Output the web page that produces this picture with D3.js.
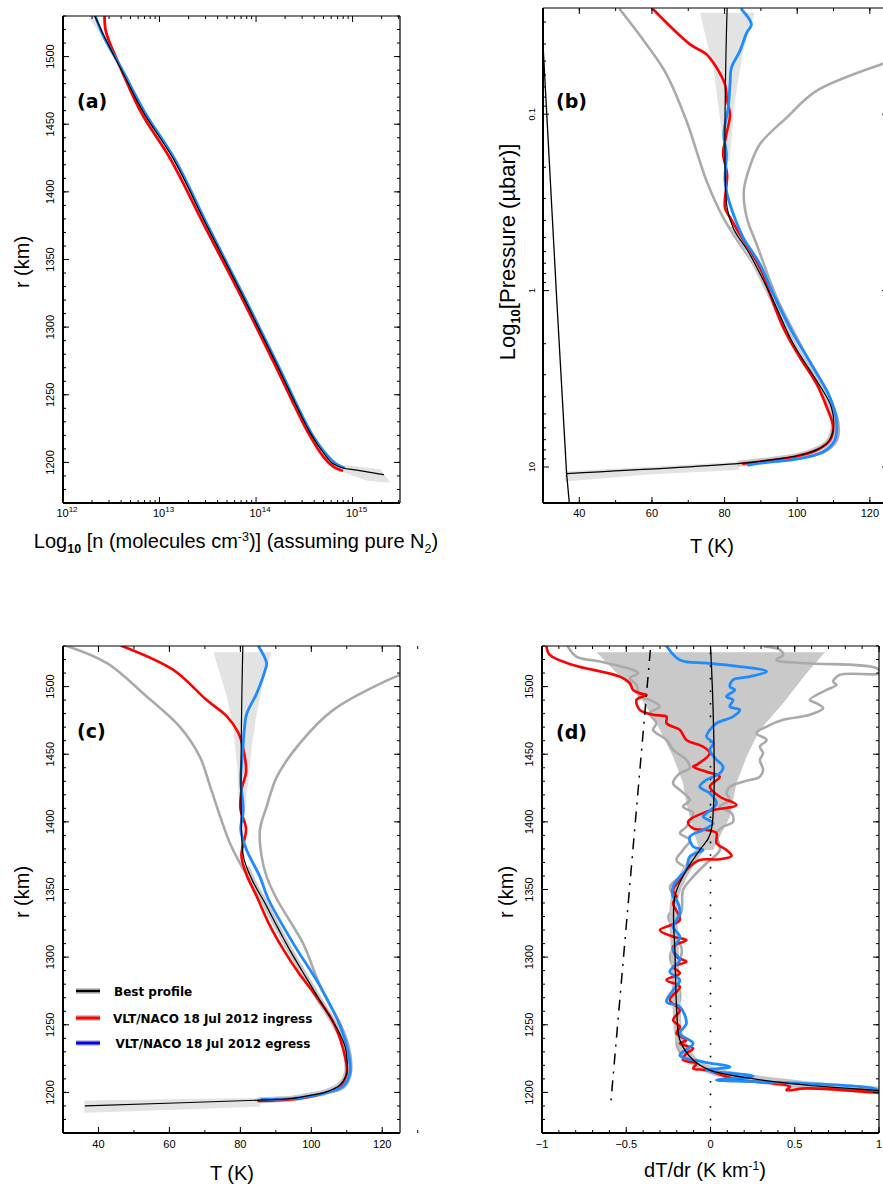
<!DOCTYPE html>
<html><head><meta charset="utf-8">
<script src="https://cdn.jsdelivr.net/npm/d3@7"></script>
<style>
body{margin:0;background:#fff}
svg{display:block}
text{font-family:"Liberation Sans",Arial,sans-serif;fill:#000}
.bold{font-family:"DejaVu Sans",sans-serif;font-weight:bold}
</style>
</head><body><script>
// ---------------- DATA ----------------
// Panel (a): [log10 n (cm^-3), r (km)]
const aBest  = [[12.33,1530],[12.42,1516],[12.61,1489.4],[12.835,1458.6],[13.146,1424],[13.49,1375],[13.87,1322],[14.22,1271.5],[14.56,1222],[14.72,1205],[14.80,1199],[14.91,1195.7],[15.01,1194.7],[15.32,1191]];
const aIngress = [[12.43,1530],[12.44,1520],[12.47,1512.8],[12.61,1489.4],[12.815,1458],[13.115,1424],[13.465,1375],[13.85,1322],[14.20,1271.5],[14.54,1222],[14.70,1204],[14.80,1197],[14.89,1194]];
const aEgress  = [[12.335,1530],[12.42,1515],[12.62,1489.4],[12.85,1458.6],[13.16,1424],[13.50,1375],[13.88,1322],[14.23,1271.5],[14.57,1222],[14.74,1205],[14.83,1199],[14.91,1196]];
const aBandTop = [[12.27,1528],[12.46,1510],[12.61,1489.5],[12.42,1516],[12.33,1530]];
const aBandBot = [[14.91,1198],[15.29,1195],[15.39,1185],[15.15,1186.5],[14.91,1192.6]];
const aXTicks = [12,13,14,15];

// Panel (b): [T (K), p (microbar)]
const bBest    = [[80.7,0.025],[80.7,0.34],[82.5,0.447],[86.9,0.619],[93.4,1.14],[98.9,2.0],[105.3,3.23],[109.4,4.57],[109.9,6.19],[108.1,7.38],[102.6,8.39],[93.4,9.08],[84.2,9.55],[36.5,10.9]];
const bIngress = [[60.4,0.0255],[70.5,0.0402],[75.0,0.0457],[77.8,0.0545],[80.1,0.0676],[80.7,0.0841],[81.5,0.1],[80.5,0.130],[79.6,0.168],[80.7,0.219],[80.1,0.339],[81.5,0.385],[84.2,0.479],[89.7,0.738],[92.5,1.045],[96.1,1.61],[100.7,2.38],[105.3,3.37],[108.1,4.57],[109.9,5.94],[109.0,7.06],[105.3,8.04],[98.9,8.77],[92.5,9.16],[85.1,9.57]];
const bEgress  = [[84.7,0.0255],[87.4,0.031],[86.1,0.0345],[84.2,0.0439],[81.9,0.0545],[81.5,0.0676],[81.0,0.0918],[79.8,0.130],[80.5,0.168],[80.1,0.238],[80.7,0.284],[82.4,0.368],[85.1,0.499],[89.7,0.706],[93.4,1.045],[98.9,1.76],[104.4,2.72],[109.0,4.02],[110.8,5.45],[110.3,7.06],[107.1,8.22],[98.9,9.08],[92.5,9.35],[86.6,9.77]];
const bGrayLeft  = [[51.2,0.0255],[58.5,0.0402],[64.0,0.0594],[69.5,0.109],[75.0,0.238],[79.6,0.385],[83,0.5],[88,0.71],[92,1.0],[97,1.7],[103,2.8],[108,4.2],[110,5.5],[110.5,7],[107,8.2],[99,9.0],[90,9.4]];
const bGrayRight = [[127,0.049],[123.2,0.0521],[105.3,0.0738],[97.1,0.1045],[89.7,0.148],[86.9,0.2],[85.3,0.272],[86.1,0.385],[88.8,0.544],[94.3,1.09],[99.5,1.78],[105,2.9],[109.5,4.3],[111.3,5.6],[111,7.0],[107.5,8.2],[99,9.0],[90,9.5]];
const bSatLine = [[30,0.0402],[33.8,1.14],[36.5,10.9],[37.25,16]];
const bBandTop = [[73.2,0.0266],[76.9,0.0545],[78.7,0.1045],[80.1,0.184],[81.4,0.184],[82.8,0.0841],[85.1,0.0439],[88.3,0.0266]];
const bBandBot = [[36,10.6],[84,9.35],[84,10.4],[60,11.0],[36,12.1]];
const bXTicks = [40,60,80,100,120];
const bYTicks = [0.1,1,10];

// Panel (c): [T (K), r (km)]
const cBest    = [[80.7,1530],[80.7,1377],[82,1365],[84.3,1352],[86.5,1342],[90.5,1322],[94,1305],[98.5,1285],[102.4,1268],[105.5,1255],[108,1243.6],[109.5,1234],[110,1226],[110,1214],[108,1205.4],[104.3,1200.4],[99,1197.5],[94.9,1195.6],[90,1194.8],[85.5,1194.3],[36.3,1190]];
const cIngress = [[46.6,1530],[61.1,1512.3],[70.5,1490],[76.2,1478],[79.4,1466],[80.6,1456.6],[81.6,1437],[80.4,1424.6],[80.0,1409.8],[81.6,1394.8],[80.3,1375],[81.8,1360.5],[84.6,1345],[88,1325],[92.1,1305.7],[96.5,1288],[100.6,1273.8],[106.2,1251.8],[109,1231.7],[110,1214.6],[108.1,1204.8],[102.5,1198.6],[94.9,1194.9],[85.1,1193.7]];
const cEgress  = [[85.1,1530],[87.4,1517.3],[87.0,1512.3],[84.6,1495],[81.8,1480],[81.1,1468],[80.7,1453],[80.1,1431],[80.8,1408.8],[80.1,1394],[81.8,1379],[85.5,1359.5],[87.9,1342.8],[94.9,1310.2],[102.4,1278.8],[108.1,1249.3],[110.4,1229.6],[110.9,1214.6],[109,1204.8],[104.3,1199.9],[94.9,1195.6],[86,1194.8]];
const cGrayLeft  = [[31.1,1530],[42.4,1517.3],[53.6,1492.6],[63,1470],[68.6,1448],[71.5,1426],[74.3,1404],[77.1,1384],[79.9,1369.4],[82.5,1358],[86,1342],[89.5,1325],[93.8,1305],[98.5,1285],[102.6,1268],[106.3,1252],[109,1240],[110.6,1226],[110.8,1214],[109,1204],[104,1199.5],[95,1195.8],[86,1195]];
const cGrayRight = [[127,1510],[125,1508.6],[106.2,1482.8],[96.8,1458.2],[90.3,1433.4],[87.4,1411.2],[85.5,1394],[86,1374.3],[87.4,1359.5],[90.3,1342.8],[97.7,1310],[101.5,1285],[104.5,1268],[108.3,1250],[110.7,1232],[111.1,1214],[109.3,1204],[104.5,1199.5],[95,1196],[86,1195.2]];
const cBandTop = [[72.4,1525.4],[76.2,1492.6],[78.0,1468],[79.2,1438.4],[79.4,1421.2],[80.4,1403.8],[80.7,1369.4],[81.4,1411.2],[81.8,1421.2],[82.3,1431],[83.2,1455.6],[84.6,1480.3],[86.5,1504.9],[88.8,1525.4]];
const cBandBot = [[36,1194],[85.5,1196],[85.5,1189.5],[60,1187],[36,1185]];
const cXTicks = [40,60,80,100,120];
const rTicks = [1200,1250,1300,1350,1400,1450,1500];

// Panel (d): [dT/dr (K/km), r (km)]
const dBest = [[0,1530],[0,1391.6],[-0.064,1379.2],[-0.143,1364.4],[-0.212,1344.7],[-0.21,1300],[-0.2,1260],[-0.182,1238.7],[-0.103,1223.9],[-0.004,1216.5],[0.174,1211.6],[0.57,1205.4],[0.966,1201.7],[1.1,1200.5]];
const dIngress = [[-0.974,1530],[-0.954,1523.4],[-0.816,1516],[-0.539,1507.4],[-0.479,1502.5],[-0.46,1497.6],[-0.42,1495.1],[-0.38,1493.9],[-0.439,1490.2],[-0.42,1482.8],[-0.341,1479.1],[-0.261,1477.8],[-0.261,1472.9],[-0.182,1468],[-0.143,1460.6],[-0.044,1455.6],[-0.004,1450.7],[-0.083,1442.1],[-0.103,1440.8],[-0.024,1437.1],[0.055,1433.4],[-0.004,1426],[0.055,1418.6],[0.154,1412.5],[-0.024,1407.5],[-0.133,1400.1],[-0.103,1395.2],[-0.024,1394],[0.036,1391.6],[0.036,1384.2],[0.095,1379.2],[0.125,1374.8],[0.055,1372.3],[-0.064,1371.8],[-0.143,1364.4],[-0.182,1357],[-0.222,1349.6],[-0.202,1344.7],[-0.222,1339.8],[-0.182,1327.4],[-0.301,1320],[-0.222,1315.1],[-0.143,1312.7],[-0.222,1307.7],[-0.202,1300.3],[-0.143,1296.6],[-0.222,1292.9],[-0.182,1288],[-0.261,1283.1],[-0.182,1278.1],[-0.242,1268.3],[-0.182,1260.9],[-0.222,1253.5],[-0.182,1248.5],[-0.202,1243.6],[-0.143,1238.7],[-0.182,1236.2],[-0.103,1232.5],[-0.143,1228.8],[-0.163,1223.9],[-0.083,1221.4],[-0.103,1217.7],[-0.024,1216.5],[0.095,1211.6],[0.174,1209.1],[0.372,1206.7],[0.471,1204.2],[0.451,1201.7],[0.57,1203],[1.005,1199.7]];
const dEgress = [[-0.261,1530],[-0.182,1519.7],[-0.024,1517.3],[0.174,1514.8],[0.333,1511.1],[0.233,1507.4],[0.134,1505],[0.115,1500],[0.144,1497.5],[0.095,1492.6],[0.134,1490.2],[0.115,1485.2],[0.174,1482.8],[0.134,1477.8],[0.036,1472.9],[-0.004,1468],[-0.024,1463],[0.016,1458.1],[-0.004,1453.2],[0.036,1445.8],[0.075,1440.8],[0.055,1435.9],[-0.024,1431],[-0.064,1426],[-0.004,1421.1],[0.036,1413.7],[-0.024,1406.3],[-0.044,1403.8],[0.016,1398.9],[-0.044,1394],[-0.123,1389],[-0.103,1381.7],[-0.044,1379.2],[-0.123,1374.3],[-0.143,1364.4],[-0.182,1359.5],[-0.222,1352.1],[-0.222,1344.7],[-0.202,1342.3],[-0.182,1332.4],[-0.222,1322.5],[-0.182,1315.1],[-0.222,1305.3],[-0.182,1297.9],[-0.242,1289.2],[-0.182,1283.1],[-0.222,1275.7],[-0.261,1267],[-0.182,1263.3],[-0.143,1251],[-0.182,1243.6],[-0.103,1236.2],[-0.182,1227.5],[-0.044,1222.6],[0.115,1218.9],[-0.024,1216.5],[0.253,1212],[0.036,1209.1],[0.293,1207.9],[0.966,1203],[1.005,1200.5]];
const dGrayLeft = [[-0.846,1529.6],[-0.796,1522.2],[-0.657,1518.5],[-0.46,1512.4],[-0.43,1509.9],[-0.479,1506.2],[-0.439,1501.3],[-0.42,1492.6],[-0.36,1490.2],[-0.301,1485.2],[-0.36,1480.3],[-0.321,1472.9],[-0.341,1468],[-0.261,1460.6],[-0.222,1453.2],[-0.143,1445.8],[-0.123,1439.6],[-0.182,1435.9],[-0.222,1428.5],[-0.182,1423.6],[-0.123,1416.2],[-0.163,1411.2],[-0.103,1406.4],[-0.143,1396.4],[-0.182,1391.6],[-0.123,1386.6],[-0.163,1379.2],[-0.202,1371.8],[-0.143,1364.4],[-0.24,1352],[-0.2,1340],[-0.25,1330],[-0.2,1315],[-0.24,1300],[-0.2,1285],[-0.22,1270],[-0.19,1250],[-0.2,1235],[-0.15,1225],[-0.05,1218],[0.2,1212],[0.6,1205],[1.05,1201]];
const dGrayRight = [[0.322,1529.6],[0.412,1527.1],[0.431,1523.4],[0.392,1519.7],[0.57,1517.3],[0.986,1513.6],[1.005,1509.9],[0.768,1508.7],[0.728,1503.7],[0.748,1501.3],[0.689,1497.6],[0.59,1490.2],[0.629,1487.7],[0.669,1484],[0.59,1479.1],[0.431,1475.4],[0.333,1470.4],[0.273,1465.5],[0.333,1460.6],[0.293,1455.6],[0.312,1450.7],[0.293,1445.8],[0.312,1438.4],[0.293,1433.4],[0.194,1429.7],[0.115,1426],[0.095,1421.2],[0.115,1416.2],[0.055,1411.2],[0.125,1406.4],[0.134,1400.1],[0.075,1396.4],[0.036,1391.6],[0.055,1379.2],[-0.024,1369.4],[-0.103,1359.5],[-0.163,1349.6],[-0.17,1335],[-0.21,1320],[-0.17,1305],[-0.2,1290],[-0.18,1270],[-0.21,1255],[-0.16,1240],[-0.12,1228],[-0.03,1219],[0.25,1211],[0.7,1204.5],[1.05,1201.5]];
const dBand = [[-0.677,1525.4],[-0.42,1492.6],[-0.32,1472.9],[-0.222,1448.2],[-0.163,1428.5],[-0.143,1413.7],[-0.103,1394],[-0.064,1379],[0.016,1379.2],[0.075,1394],[0.115,1403.8],[0.154,1428.5],[0.214,1448.2],[0.293,1468],[0.431,1487.7],[0.57,1509.9],[0.679,1525.4]];
const dAdiabat = [[-0.357,1527],[-0.594,1189]];
const dXTicks = [-1,-0.5,0,0.5,1];

const legendLabels = ["Best profile","VLT/NACO 18 Jul 2012 ingress","VLT/NACO 18 Jul 2012 egress"];
const panelLabels = ["(a)","(b)","(c)","(d)"];

// ---------------- DRAWING ----------------
const RED="#ff0000", BLUE="#1e8cff", GRAY="#aaaaaa", BAND="#e3e3e3", BANDD="#c9c9c9";
const svg=d3.select("body").append("svg").attr("width",883).attr("height",1184);

const curve=d3.curveCatmullRom.alpha(0.5);

function panel(id,x0,x1,y0,y1){
  const g=svg.append("g");
  svg.append("clipPath").attr("id",id).append("rect").attr("x",x0).attr("y",y0).attr("width",x1-x0).attr("height",y1-y0);
  const plot=g.append("g").attr("clip-path",`url(#${id})`);
  return {g,plot,x0,x1,y0,y1};
}
function line(P,data,xs,ys,opt){
  const l=d3.line().x(d=>xs(d[0])).y(d=>ys(d[1])).curve(opt.curve||curve);
  P.plot.append("path").attr("d",l(data)).attr("fill",opt.fill||"none")
    .attr("stroke",opt.stroke||"none").attr("stroke-width",opt.w||1)
    .attr("stroke-dasharray",opt.dash||null).attr("stroke-linejoin","round").attr("stroke-linecap",opt.cap||"round");
}
function poly(P,data,xs,ys,fill){
  const l=d3.line().x(d=>xs(d[0])).y(d=>ys(d[1])).curve(d3.curveLinearClosed);
  P.plot.append("path").attr("d",l(data)).attr("fill",fill).attr("stroke","none");
}
function frame(P,xs,ys,xMaj,xMin,yMaj,yMin){
  const g=P.g;
  const seg=(a,b,c,d,w)=>g.append("line").attr("x1",a).attr("y1",b).attr("x2",c).attr("y2",d).attr("stroke","#000").attr("stroke-width",w||1);
  xMin.forEach(v=>{const X=xs(v);seg(X,P.y1,X,P.y1-3);seg(X,P.y0,X,P.y0+3);});
  xMaj.forEach(v=>{const X=xs(v);seg(X,P.y1,X,P.y1-6);seg(X,P.y0,X,P.y0+6);});
  yMin.forEach(v=>{const Y=ys(v);seg(P.x0,Y,P.x0+3,Y);seg(P.x1,Y,P.x1-3,Y);});
  yMaj.forEach(v=>{const Y=ys(v);seg(P.x0,Y,P.x0+6,Y);seg(P.x1,Y,P.x1-6,Y);});
  seg(P.x0,P.y0,P.x1,P.y0,1.2);
  seg(P.x1,P.y0,P.x1,P.y1,1.2);
  seg(P.x0,P.y1,P.x1,P.y1,2);
  seg(P.x0,P.y0,P.x0,P.y1,2);
}
function yTickLabels(P,ys,vals,fmt,xb,fs){
  vals.forEach(v=>{P.g.append("text").attr("transform",`translate(${xb},${ys(v)}) rotate(-90)`)
    .attr("text-anchor","middle").attr("font-size",fs).text(fmt(v));});
}
function xTickLabels(P,xs,vals,fmt,yb,fs){
  vals.forEach(v=>{P.g.append("text").attr("x",xs(v)).attr("y",yb).attr("text-anchor","middle").attr("font-size",fs).text(fmt(v));});
}
const rng=(a,b,s)=>d3.range(Math.round(a/s),Math.round(b/s)+1).map(k=>+(k*s).toFixed(6));

// ---- Panel (a)
{
  const P=panel("ca",63,400,16,503);
  const xs=d3.scaleLog().domain([1e12,3.1e15]).range([P.x0,P.x1]);
  const ys=d3.scaleLinear().domain([1170,1530]).range([P.y1,P.y0]);
  const X=d=>xs(Math.pow(10,d));
  poly(P,aBandTop,X,ys,BAND);
  poly(P,aBandBot,X,ys,BAND);
  line(P,aIngress,X,ys,{stroke:RED,w:2.8});
  line(P,aEgress,X,ys,{stroke:BLUE,w:2.8});
  line(P,aBest,X,ys,{stroke:"#000",w:1.2});
  const minor=[];
  for(let e=12;e<=15;e++) for(let k=2;k<=9;k++){const v=k*Math.pow(10,e); if(v<=3.1e15) minor.push(v);}
  frame(P,xs,ys,aXTicks.map(e=>Math.pow(10,e)),minor,rTicks,rng(1170,1530,10));
  yTickLabels(P,ys,rTicks,d=>d,54,11);
  aXTicks.forEach(e=>{
    const t=P.g.append("text").attr("x",xs(Math.pow(10,e))+4).attr("y",517).attr("text-anchor","middle").attr("font-size",11);
    t.append("tspan").text("10");
    t.append("tspan").attr("dy",-5).attr("font-size",8).text(e);
  });
  const t=P.g.append("text").attr("x",236).attr("y",548).attr("text-anchor","middle").attr("font-size",20);
  t.append("tspan").text("Log");
  t.append("tspan").attr("dy",5).attr("font-size",12.5).attr("font-weight","bold").text("10");
  t.append("tspan").attr("dy",-5).text(" [n (molecules cm");
  t.append("tspan").attr("dy",-7).attr("font-size",12.5).text("-3");
  t.append("tspan").attr("dy",7).text(")] (assuming pure N");
  t.append("tspan").attr("dy",5).attr("font-size",12.5).text("2");
  t.append("tspan").attr("dy",-5).text(")");
  P.g.append("text").attr("transform","translate(29,262) rotate(-90)").attr("text-anchor","middle").attr("font-size",20).text("r (km)");
  P.g.append("text").attr("class","bold").attr("x",77).attr("y",108).attr("font-size",19).text(panelLabels[0]);
}

// ---- Panel (b)
{
  const P=panel("cb",543,888,8,503);
  const xs=d3.scaleLinear().domain([30,125]).range([P.x0,P.x1]);
  const ys=d3.scaleLog().domain([0.025,16]).range([P.y0,P.y1]);
  poly(P,bBandTop,xs,ys,BAND);
  poly(P,bBandBot,xs,ys,BAND);
  line(P,bGrayLeft,xs,ys,{stroke:GRAY,w:2.6});
  line(P,bGrayRight,xs,ys,{stroke:GRAY,w:2.6});
  line(P,bBest.slice(2,-1),xs,ys,{stroke:"#c8c8c8",w:6});
  line(P,bIngress,xs,ys,{stroke:RED,w:2.6});
  line(P,bEgress,xs,ys,{stroke:BLUE,w:2.8});
  line(P,bBest,xs,ys,{stroke:"#000",w:1.2});
  line(P,bSatLine,xs,ys,{stroke:"#000",w:1.3,curve:d3.curveLinear});
  const minor=[];
  for(let e=-2;e<=1;e++) for(let k=2;k<=9;k++){const v=k*Math.pow(10,e); if(v>=0.025&&v<=16) minor.push(v);}
  frame(P,xs,ys,bXTicks,rng(30,125,10),bYTicks,minor);
  yTickLabels(P,ys,bYTicks,d=>d,535,9);
  xTickLabels(P,xs,bXTicks,d=>d,517,11);
  P.g.append("text").attr("x",712).attr("y",553).attr("text-anchor","middle").attr("font-size",20).text("T (K)");
  const t=P.g.append("text").attr("transform","translate(515,252) rotate(-90)").attr("text-anchor","middle").attr("font-size",22);
  t.append("tspan").text("Log");
  t.append("tspan").attr("dy",5).attr("font-size",13).attr("font-weight","bold").text("10");
  t.append("tspan").attr("dy",-5).text("[Pressure (\u00b5bar)]");
  P.g.append("text").attr("class","bold").attr("x",556).attr("y",108).attr("font-size",19).text(panelLabels[1]);
}

// ---- Panel (c)
{
  const P=panel("cc",63,400,646,1133);
  const xs=d3.scaleLinear().domain([30,125]).range([P.x0,P.x1]);
  const ys=d3.scaleLinear().domain([1170,1530]).range([P.y1,P.y0]);
  poly(P,cBandTop,xs,ys,BAND);
  poly(P,cBandBot,xs,ys,BAND);
  line(P,cGrayLeft,xs,ys,{stroke:GRAY,w:2.6});
  line(P,cGrayRight,xs,ys,{stroke:GRAY,w:2.6});
  line(P,cBest.slice(2,20),xs,ys,{stroke:"#c8c8c8",w:6});
  line(P,cIngress,xs,ys,{stroke:RED,w:2.6});
  line(P,cEgress,xs,ys,{stroke:BLUE,w:2.8});
  line(P,cBest,xs,ys,{stroke:"#000",w:1.2});
  frame(P,xs,ys,cXTicks,rng(30,125,10),rTicks,rng(1170,1530,10));
  yTickLabels(P,ys,rTicks,d=>d,54,11);
  xTickLabels(P,xs,cXTicks,d=>d,1148,11);
  P.g.append("text").attr("x",232).attr("y",1180).attr("text-anchor","middle").attr("font-size",20).text("T (K)");
  P.g.append("text").attr("transform","translate(29,892) rotate(-90)").attr("text-anchor","middle").attr("font-size",20).text("r (km)");
  P.g.append("text").attr("class","bold").attr("x",77).attr("y",738).attr("font-size",19).text(panelLabels[2]);
  // legend
  const lg=P.g.append("g");
  const cols=["#000",RED,"#0000ff"], ly=[991,1018,1043], lx=[114,113,115.5], tb=[995.5,1022.5,1047.5];
  legendLabels.forEach((s,i)=>{
    lg.append("line").attr("x1",76).attr("x2",100).attr("y1",ly[i]).attr("y2",ly[i]).attr("stroke","#c8c8c8").attr("stroke-width",6);
    lg.append("line").attr("x1",76).attr("x2",100).attr("y1",ly[i]).attr("y2",ly[i]).attr("stroke",cols[i]).attr("stroke-width",i?3:2.5);
    lg.append("text").attr("class","bold").attr("x",lx[i]).attr("y",tb[i]).attr("font-size",12).text(s);
  });
}

// ---- Panel (d)
{
  const P=panel("cd",542,879,646,1133);
  const xs=d3.scaleLinear().domain([-1,1]).range([P.x0,P.x1]);
  const ys=d3.scaleLinear().domain([1170,1530]).range([P.y1,P.y0]);
  poly(P,dBand,xs,ys,BANDD);
  line(P,dGrayLeft,xs,ys,{stroke:GRAY,w:2.6});
  line(P,dGrayRight,xs,ys,{stroke:GRAY,w:2.6});
  line(P,dBest.slice(2),xs,ys,{stroke:"#c4c4c4",w:8});
  line(P,[[0,1170],[0,1530]],xs,ys,{stroke:"#000",w:1.6,dash:"1.6,11",cap:"butt",curve:d3.curveLinear});
  line(P,dIngress,xs,ys,{stroke:RED,w:2.6});
  line(P,dEgress,xs,ys,{stroke:BLUE,w:2.8});
  line(P,dBest,xs,ys,{stroke:"#000",w:1.3});
  line(P,dAdiabat,xs,ys,{stroke:"#000",w:1.5,dash:"11,7,2,7",cap:"butt",curve:d3.curveLinear});
  frame(P,xs,ys,dXTicks,rng(-1,1,0.1),rTicks,rng(1170,1530,10));
  yTickLabels(P,ys,rTicks,d=>d,533,11);
  xTickLabels(P,xs,dXTicks,d=>d<0?"\u2212"+(-d):d,1148,11);
  const t=P.g.append("text").attr("x",705).attr("y",1177).attr("text-anchor","middle").attr("font-size",20);
  t.append("tspan").text("dT/dr (K km");
  t.append("tspan").attr("dy",-7).attr("font-size",12).text("-1");
  t.append("tspan").attr("dy",7).text(")");
  P.g.append("text").attr("transform","translate(513,892) rotate(-90)").attr("text-anchor","middle").attr("font-size",20).text("r (km)");
  P.g.append("text").attr("class","bold").attr("x",556).attr("y",739).attr("font-size",19).text(panelLabels[3]);
}
</script></body></html>
